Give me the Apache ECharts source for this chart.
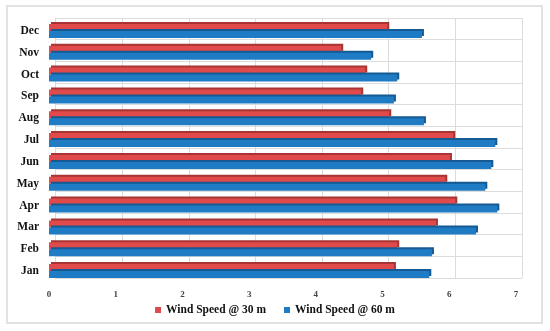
<!DOCTYPE html>
<html>
<head>
<meta charset="utf-8">
<script src="https://cdn.jsdelivr.net/npm/echarts@6/dist/echarts.min.js"></script>
<style>
html,body{margin:0;padding:0;background:#fff;}
#c{width:550px;height:331px;}
</style>
</head>
<body>
<div id="c"></div>
<script>
const months = ['Jan','Feb','Mar','Apr','May','Jun','Jul','Aug','Sep','Oct','Nov','Dec'];
const ws30 = [5.17, 5.22, 5.80, 6.09, 5.94, 6.01, 6.06, 5.10, 4.68, 4.74, 4.38, 5.07];
const ws60 = [5.70, 5.74, 6.40, 6.72, 6.54, 6.63, 6.69, 5.62, 5.17, 5.22, 4.83, 5.59];
const xTicks = [0, 1, 2, 3, 4, 5, 6, 7];
const seriesNames = ['Wind Speed @ 30 m', 'Wind Speed @ 60 m'];

const chart = echarts.init(document.getElementById('c'), null, {renderer: 'canvas'});
const serif = '"Liberation Serif","Times New Roman",serif';
const red = '#E04A4A', redDark = '#A83434';
const blue = '#1F7CC4', blueDark = '#155A92';

chart.setOption({
  animation: false,
  backgroundColor: '#fff',
  graphic: [{
    type: 'rect', shape: {x: 7, y: 6, width: 535, height: 317},
    style: {fill: 'none', stroke: '#E2E2E2', lineWidth: 2}, z: -10
  }],
  legend: {
    bottom: 10, left: 'center',
    itemWidth: 6, itemHeight: 6, itemGap: 18,
    icon: 'rect',
    textStyle: {fontFamily: serif, fontWeight: 'bold', fontSize: 11.5, color: '#111'},
    data: seriesNames
  },
  grid: [
    {left: 55.5, right: 28, top: 18, bottom: 53, show: false},
    {left: 49, right: 34, top: 20, bottom: 49, show: false}
  ],
  xAxis: [
    {gridIndex: 0, type: 'value', min: 0, max: 7, interval: 1,
     axisLabel: {show: false}, axisLine: {show: false}, axisTick: {show: false},
     splitLine: {show: true, lineStyle: {color: '#DCDCDC', width: 1}}},
    {gridIndex: 1, type: 'value', min: xTicks[0], max: xTicks[xTicks.length-1], interval: 1,
     axisLabel: {fontFamily: serif, fontWeight: 'bold', fontSize: 9, color: '#444', margin: 8},
     axisLine: {show: false}, axisTick: {show: false}, splitLine: {show: false}}
  ],
  yAxis: [
    {gridIndex: 0, type: 'category', data: months,
     axisLabel: {show: false}, axisTick: {show: false},
     axisLine: {show: true, lineStyle: {color: '#DCDCDC'}},
     splitLine: {show: true, lineStyle: {color: '#DCDCDC', width: 1}}},
    {gridIndex: 1, type: 'category', data: months,
     axisLabel: {fontFamily: serif, fontWeight: 'bold', fontSize: 11.5, color: '#111', margin: 10},
     axisLine: {show: false}, axisTick: {show: false}, splitLine: {show: false}}
  ],
  series: [
    {name: seriesNames[0], type: 'bar', xAxisIndex: 1, yAxisIndex: 1, data: ws30,
     barWidth: 7, barGap: '0%',
     itemStyle: {color: red, shadowColor: redDark, shadowOffsetX: 2, shadowOffsetY: -2, shadowBlur: 0}},
    {name: seriesNames[1], type: 'bar', xAxisIndex: 1, yAxisIndex: 1, data: ws60,
     barWidth: 7, barGap: '0%',
     itemStyle: {color: blue, shadowColor: blueDark, shadowOffsetX: 2, shadowOffsetY: -2, shadowBlur: 0}}
  ]
});
</script>
</body>
</html>
